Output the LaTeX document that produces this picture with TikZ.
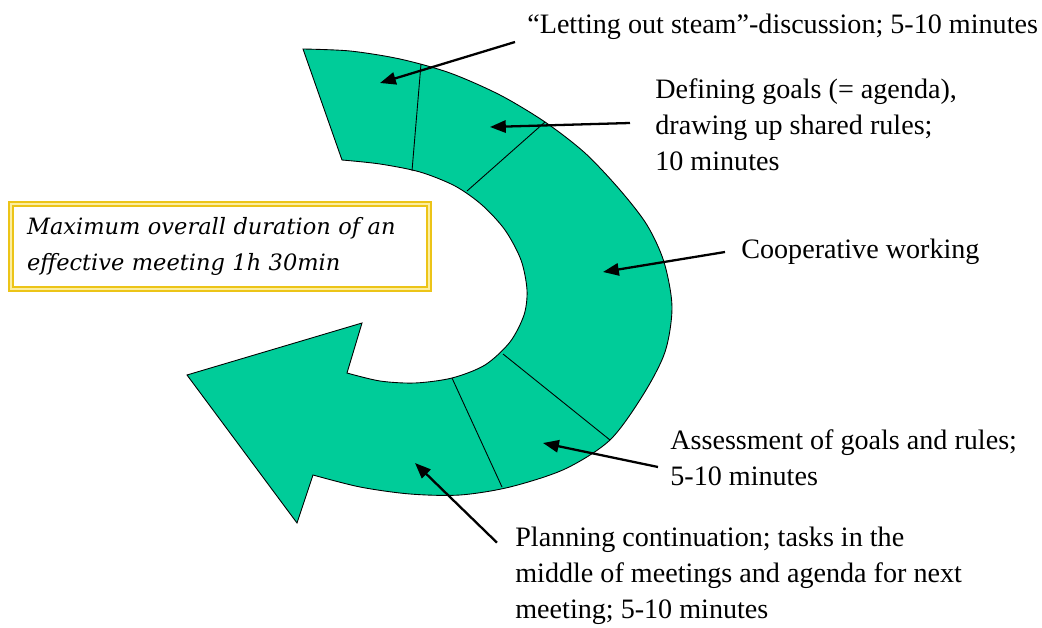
\documentclass[tikz,border=0pt]{standalone}
\usepackage{fontspec}
\setmainfont{Liberation Serif}
\newfontfamily\notefont{DejaVu Serif}
\usetikzlibrary{arrows.meta}
\definecolor{gruenBlau}{RGB}{0,204,153}
\definecolor{goldRand}{RGB}{236,196,24}
\definecolor{goldHell}{RGB}{252,238,160}
\tikzstyle{phase} = [anchor=west,align=left,inner sep=0pt,font=\fontsize{16}{20.6}\selectfont]
\tikzstyle{zeiger} = [line width=1.3pt,-{Triangle[length=9pt,width=7pt]}]
\tikzstyle{teiler} = [draw=black,line width=0.5pt]
\tikzstyle{notiz} = [draw=goldRand,double=goldHell,double distance=1.1pt,line width=1.1pt,text width=7.72cm,align=left,inner xsep=0.32cm,minimum height=1.7cm,font=\notefont\itshape\fontsize{12.8}{20.5}\selectfont]

\begin{document}
\begin{tikzpicture}[x=0.02cm,y=-0.02cm]
\useasboundingbox (0,0) rectangle (1042,628);
\filldraw[fill=gruenBlau,draw=black,line width=0.5pt] plot[smooth,tension=0.5] coordinates {(303,49) (350,51) (400,59) (450,73) (500,95) (545,122) (585,153) (620,190) (647,225) (664,262) (672,307) (665,352) (643,395) (610,440) (565,469) (510,487) (460,495) (410,494) (360,487) (313,475)}
 -- (297,523) -- (187,375) -- (362,323)
 -- plot[smooth,tension=0.5] coordinates {(347,373) (380,381) (415,383) (452,378) (485,365) (510,342) (524,315) (527,290) (521,260) (505,230) (482,205) (455,186) (420,172) (380,164) (342,160)} -- cycle;
\draw[teiler] (421,64) -- (412,171);
\draw[teiler] (545,122) -- (467,191);
\draw[teiler] (610,440) -- (503,354);
\draw[teiler] (502,487) -- (452,378);
\node[notiz] (dauer) at (220,246.5) {Maximum overall duration of an\\effective meeting 1h 30min};
\node[phase] (dampf) at (527,27) {“Letting out steam”-discussion; 5-10 minutes};
\node[phase] (ziele) at (655,125) {Defining goals (= agenda),\\drawing up shared rules;\\10 minutes};
\node[phase] (arbeit) at (741,252) {Cooperative working};
\node[phase] (bewertung) at (670,458) {Assessment of goals and rules;\\5-10 minutes};
\node[phase] (planung) at (515,576) {Planning continuation; tasks in the\\middle of meetings and agenda for next\\meeting; 5-10 minutes};
\coordinate (dampfZiel) at (380,83);
\coordinate (zieleZiel) at (490,127);
\coordinate (arbeitZiel) at (603,272);
\coordinate (bewertungZiel) at (543,443);
\coordinate (planungZiel) at (415,463);
\draw[zeiger] ([shift={(-12,15)}]dampf.west) -- (dampfZiel);
\draw[zeiger] ([shift={(-25,-2)}]ziele.west) -- (zieleZiel);
\draw[zeiger] ([shift={(-16,0)}]arbeit.west) -- (arbeitZiel);
\draw[zeiger] ([shift={(-12,9)}]bewertung.west) -- (bewertungZiel);
\draw[zeiger] ([shift={(-18,16)}]planung.north west) -- (planungZiel);
\end{tikzpicture}
\end{document}
